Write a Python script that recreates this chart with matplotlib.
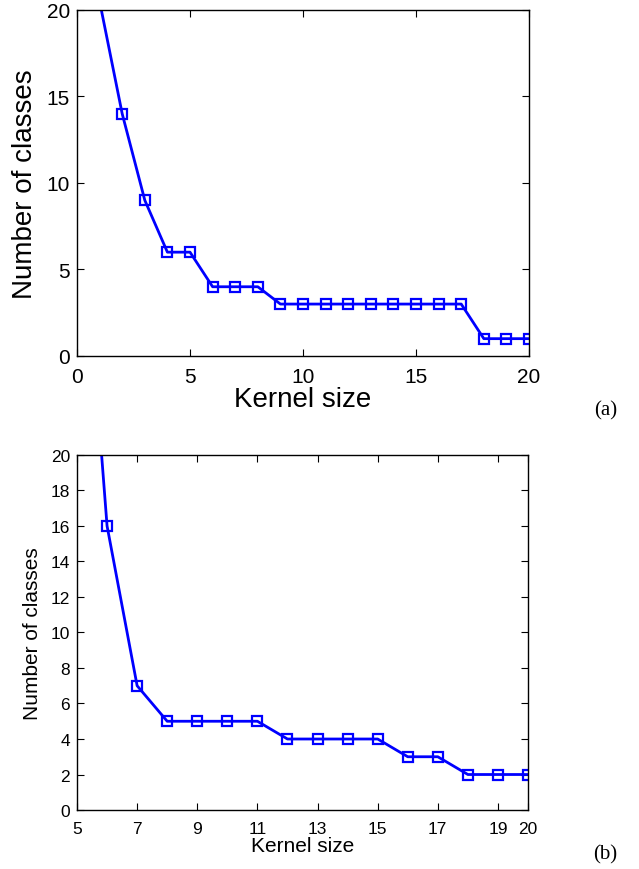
import matplotlib
matplotlib.use("Agg")
import matplotlib.pyplot as plt

plt.rcParams['font.family'] = ['Liberation Sans', 'DejaVu Sans']

# panel (a)
kernel_a = [1, 2, 3, 4, 5, 6, 7, 8, 9, 10, 11, 12, 13, 14, 15, 16, 17, 18, 19, 20]
classes_a = [20.5, 14, 9, 6, 6, 4, 4, 4, 3, 3, 3, 3, 3, 3, 3, 3, 3, 1, 1, 1]
xticks_a = [0, 5, 10, 15, 20]
yticks_a = [0, 5, 10, 15, 20]

# panel (b)
kernel_b = [5, 6, 7, 8, 9, 10, 11, 12, 13, 14, 15, 16, 17, 18, 19, 20]
classes_b = [38, 16, 7, 5, 5, 5, 5, 4, 4, 4, 4, 3, 3, 2, 2, 2]
xticks_b = [5, 7, 9, 11, 13, 15, 17, 19, 20]
yticks_b = list(range(0, 21, 2))

fig = plt.figure(figsize=(6.39, 8.70), dpi=100)
ax1 = fig.add_axes([0.1205, 0.5897, 0.7074, 0.3977])
ax2 = fig.add_axes([0.1205, 0.0678, 0.7058, 0.4081])


def style(ax, tick_size):
    ax.tick_params(direction='in', top=True, right=True, length=5,
                   width=0.8, labelsize=tick_size)
    ax.tick_params(axis='x', pad=8)
    ax.tick_params(axis='y', pad=5)
    for s in ax.spines.values():
        s.set_linewidth(1.0)


ax1.plot(kernel_a, classes_a, color='#0000ff', lw=2, marker='s',
         ms=6.5, mfc='none', mew=1.6)
ax1.set_xlim(0, 20)
ax1.set_ylim(0, 20)
ax1.set_xticks(xticks_a)
ax1.set_yticks(yticks_a)
style(ax1, 15)
ax1.set_xlabel('Kernel size', fontsize=20, labelpad=0)
ax1.set_ylabel('Number of classes', fontsize=20, labelpad=6)

ax2.plot(kernel_b, classes_b, color='#0000ff', lw=2, marker='s',
         ms=6.5, mfc='none', mew=1.6)
ax2.set_xlim(5, 20)
ax2.set_ylim(0, 20)
ax2.set_xticks(xticks_b)
ax2.set_yticks(yticks_b)
style(ax2, 12.5)
ax2.set_xlabel('Kernel size', fontsize=15, labelpad=0)
ax2.set_ylabel('Number of classes', fontsize=15, labelpad=6)

fig.text(606 / 639, 1 - 411 / 870, '(a)', family='Liberation Serif',
         fontsize=15, ha='center', va='center')
fig.text(605 / 639, 1 - 855 / 870, '(b)', family='Liberation Serif',
         fontsize=15, ha='center', va='center')

fig.savefig('out.png', dpi=100)
